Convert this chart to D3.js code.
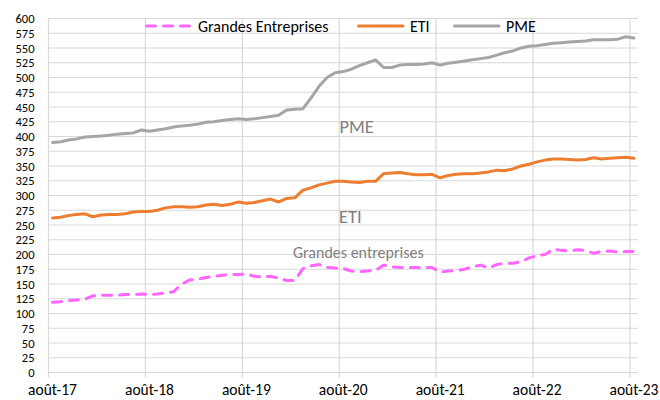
<!DOCTYPE html>
<html><head><meta charset="utf-8">
<script src="https://cdn.jsdelivr.net/npm/d3@7"></script>
<style>body{margin:0;background:#fff}svg{display:block}</style>
</head><body>
<svg id="c" width="660" height="400"></svg>
<script>
const tickLabels = ["août-17","août-18","août-19","août-20","août-21","août-22","août-23"];
const seriesNames = ["Grandes Entreprises","ETI","PME"];
const grandesEntreprises = [119,120,122,123,124,130,131,131,131,132,132,133,
 132,133,135,137,150,157,158,161,163,165,166,166,
 167,163,162,163,160,156,156,176,181,183,178,177,
 176,172,171,172,173,182,179,178,178,178,178,178,
 170,172,173,175,179,182,177,183,185,185,188,194,
 198,200,209,207,206,208,207,202,205,206,204,205,
 205];
const eti = [262,263,266,268,269,264,267,268,268,269,272,273,
 273,275,279,281,281,280,281,284,285,283,285,289,
 287,288,291,294,289,295,296,309,313,318,321,324,
 324,323,322,324,324,337,338,339,337,335,335,336,
 330,334,336,337,337,338,340,343,342,345,350,353,
 357,360,362,362,361,360,361,364,362,363,364,365,
 363];
const pme = [390,391,394,396,399,400,401,402,404,405,406,411,
 409,411,413,416,418,419,421,424,425,427,429,430,
 429,430,432,434,436,445,446,447,465,485,500,508,
 510,514,520,525,530,517,517,521,522,522,523,525,
 521,524,526,528,530,532,534,538,542,545,550,553,
 554,556,558,559,560,561,562,564,564,564,565,569,
 567];
const yTicks = d3.range(0, 601, 25);

const font = "Carlito, Lato, 'Liberation Sans', sans-serif";
const svg = d3.select("#c");
const L = 48.5, R = 638, T = 18.5, B = 372.5;
const n = pme.length;
const x = d3.scaleLinear().domain([0, n]).range([L, R]);
const y = d3.scaleLinear().domain([0, 600]).range([B, T]);
const grid = "#d9d9d9";

// horizontal gridlines
svg.append("g").selectAll("line").data(yTicks).join("line")
  .attr("x1", L).attr("x2", R).attr("y1", d => y(d)).attr("y2", d => y(d))
  .attr("stroke", grid).attr("stroke-width", 1.2);
// vertical gridlines / ticks
const xt = tickLabels.map((t, k) => k * 12);
svg.append("g").selectAll("line").data(xt).join("line")
  .attr("x1", d => x(d)).attr("x2", d => x(d)).attr("y1", T).attr("y2", B + 5)
  .attr("stroke", grid).attr("stroke-width", 1.2);

// y labels
svg.append("g").selectAll("text").data(yTicks).join("text")
  .attr("x", 34.5).attr("y", d => y(d) + 4.6)
  .attr("text-anchor", "end").attr("font-family", font).attr("font-size", 12.5)
  .attr("fill", "#000").text(d => d);
// x labels
svg.append("g").selectAll("text").data(tickLabels).join("text")
  .attr("x", (d, k) => x(k * 12 + 0.5)).attr("y", 394.5)
  .attr("text-anchor", "middle").attr("font-family", font).attr("font-size", 15.5)
  .attr("fill", "#000").text(d => d);

const line = d3.line().x((d, i) => x(i + 0.5)).y(d => y(d));
const styles = [
  {data: grandesEntreprises, color: "#ff66ff", dash: "9,8"},
  {data: eti, color: "#ed7d31", dash: null},
  {data: pme, color: "#a5a5a5", dash: null}
];
styles.forEach(s => {
  svg.append("path").attr("d", line(s.data)).attr("fill", "none")
    .attr("stroke", s.color).attr("stroke-width", 3)
    .attr("stroke-linejoin", "round").attr("stroke-linecap", "round")
    .attr("stroke-dasharray", s.dash);
});

// legend
const legX = [145, 357, 453];
seriesNames.forEach((nm, k) => {
  const s = styles[k];
  svg.append("line").attr("x1", legX[k] + 1.5).attr("x2", legX[k] + 46).attr("y1", 26).attr("y2", 26)
    .attr("stroke", s.color).attr("stroke-width", 3).attr("stroke-linecap", "round")
    .attr("stroke-dasharray", s.dash);
  svg.append("text").attr("x", legX[k] + 53).attr("y", 31.5)
    .attr("font-family", font).attr("font-size", 16).attr("fill", "#000").text(nm);
});

// annotations
svg.append("text").attr("x", 339.5).attr("y", 132.7)
  .attr("font-family", font).attr("font-size", 18.5).attr("fill", "#808080").text("PME");
svg.append("text").attr("x", 339).attr("y", 223.3)
  .attr("font-family", font).attr("font-size", 18.5).attr("fill", "#808080").text("ETI");
svg.append("text").attr("x", 293).attr("y", 257.5)
  .attr("font-family", font).attr("font-size", 16).attr("fill", "#808080").text("Grandes entreprises");
</script>
</body></html>
